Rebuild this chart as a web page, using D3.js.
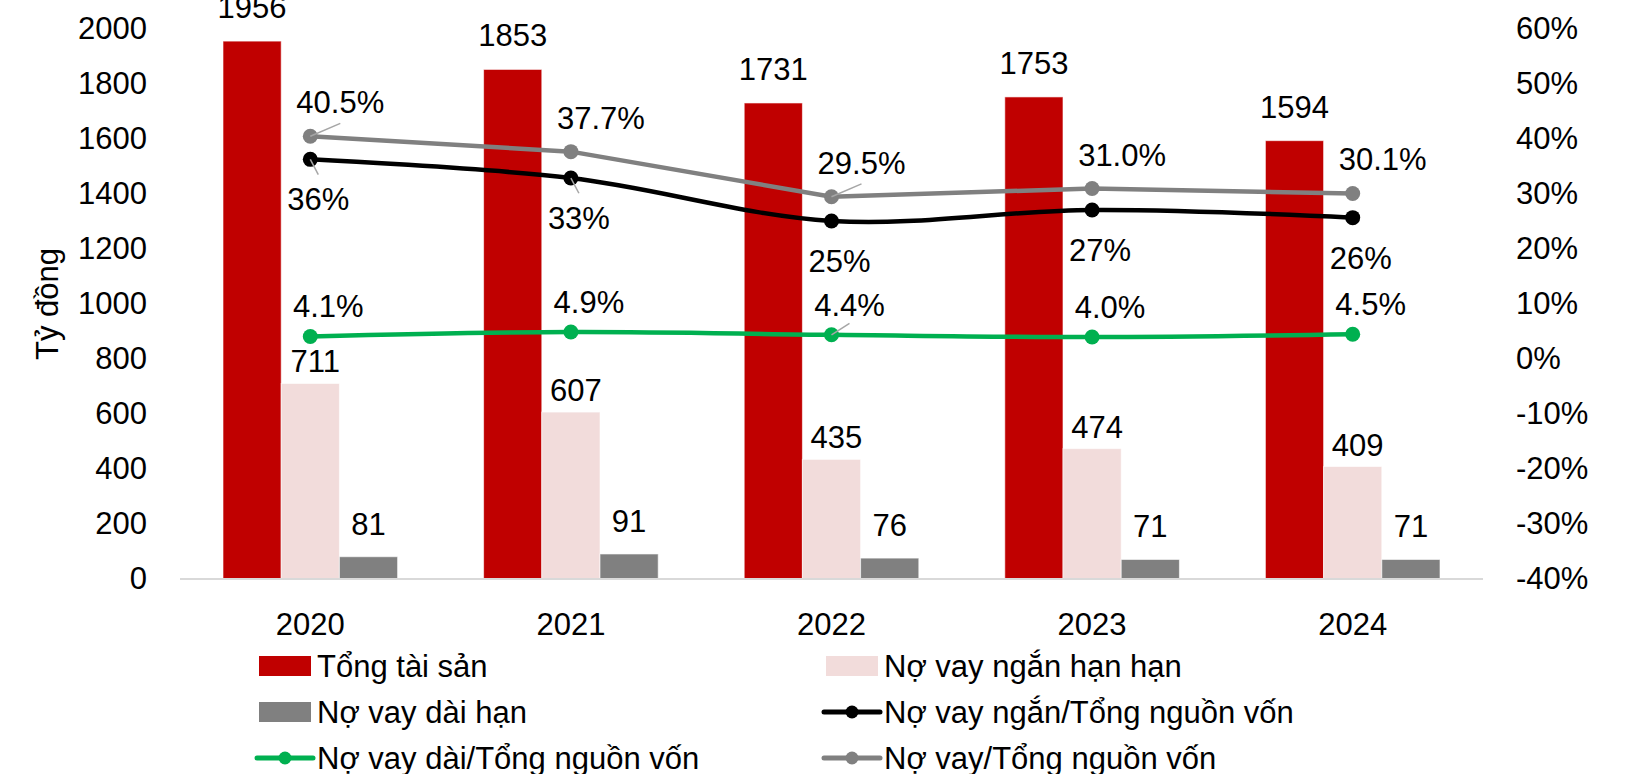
<!DOCTYPE html>
<html>
<head>
<meta charset="utf-8">
<script src="https://cdn.jsdelivr.net/npm/d3@7"></script>
<style>
  html, body { margin: 0; padding: 0; background: #fff; }
  svg text { font-family: "Liberation Sans", Arial, sans-serif; fill: #000; }
</style>
</head>
<body>
<svg id="chart" width="1633" height="774"></svg>
<script>
// ---- data ----
const years        = ['2020', '2021', '2022', '2023', '2024'];
const totalAssets  = [1956, 1853, 1731, 1753, 1594];
const shortDebt    = [711, 607, 435, 474, 409];
const longDebt     = [81, 91, 76, 71, 71];
const shortRatio   = [36.3, 32.9, 25.1, 27.1, 25.7];   // % of total capital
const longRatio    = [4.1, 4.9, 4.4, 4.0, 4.5];
const debtRatio    = [40.5, 37.7, 29.5, 31.0, 30.1];
const leftTicks    = [0, 200, 400, 600, 800, 1000, 1200, 1400, 1600, 1800, 2000];
const rightTicks   = [-40, -30, -20, -10, 0, 10, 20, 30, 40, 50, 60];

const CONFIG = {
  left: 180, right: 1483, top: 29, bottom: 579,
  font: 31,
  red: '#c00000', pink: '#f2dcdb', greyBar: '#808080',
  greyLine: '#808080', black: '#000000', green: '#00b050',
  leader: '#a6a6a6', axis: '#d9d9d9'
};

const svg = d3.select('#chart');

// ---- scales ----
const x0 = d3.scaleBand().domain(years)
  .range([CONFIG.left, CONFIG.right])
  .paddingInner(0.33).paddingOuter(0.165);
const barKeys = ['total', 'short', 'long'];
const x1 = d3.scaleBand().domain(barKeys).range([0, x0.bandwidth()]);
const yL = d3.scaleLinear().domain([0, 2000]).range([CONFIG.bottom, CONFIG.top]);
const yR = d3.scaleLinear().domain([-40, 60]).range([CONFIG.bottom, CONFIG.top]);
const cx = y => x0(y) + x0.bandwidth() / 2;

// ---- axes (labels only) ----
const gL = svg.append('g').attr('transform', `translate(${CONFIG.left - 33},0)`)
  .call(d3.axisLeft(yL).tickValues(leftTicks).tickSize(0).tickPadding(0)
        .tickFormat(d3.format('d')));
const gR = svg.append('g').attr('transform', `translate(${CONFIG.right + 33},0)`)
  .call(d3.axisRight(yR).tickValues(rightTicks).tickSize(0).tickPadding(0)
        .tickFormat(d => d + '%'));
const gX = svg.append('g').attr('transform', `translate(0,${CONFIG.bottom})`)
  .call(d3.axisBottom(x0).tickSize(0).tickPadding(34));
[gL, gR, gX].forEach(g => {
  g.select('.domain').remove();
  g.selectAll('text').attr('font-size', CONFIG.font)
    .attr('font-family', '"Liberation Sans", Arial, sans-serif').attr('fill', '#000');
});

svg.append('text')
  .attr('transform', `translate(58,304) rotate(-90)`)
  .attr('text-anchor', 'middle')
  .attr('font-size', CONFIG.font)
  .text('Tỷ đồng');

// ---- bars ----
const barRows = years.map((y, i) => ({
  year: y,
  vals: [
    { key: 'total', v: totalAssets[i], c: CONFIG.red,     gap: 23, dx: 0 },
    { key: 'short', v: shortDebt[i],   c: CONFIG.pink,    gap: 11, dx: 5 },
    { key: 'long',  v: longDebt[i],    c: CONFIG.greyBar, gap: 22, dx: 0 }
  ]
}));

const grp = svg.append('g').selectAll('g.grp').data(barRows).enter()
  .append('g').attr('class', 'grp')
  .attr('transform', d => `translate(${x0(d.year)},0)`);

grp.selectAll('rect').data(d => d.vals).enter().append('rect')
  .attr('x', d => x1(d.key))
  .attr('y', d => yL(d.v))
  .attr('width', x1.bandwidth())
  .attr('height', d => yL(0) - yL(d.v))
  .attr('fill', d => d.c)
  .attr('stroke', '#fff').attr('stroke-opacity', 0.6).attr('stroke-width', 1);

grp.selectAll('text.bl').data(d => d.vals).enter().append('text')
  .attr('class', 'bl')
  .attr('x', d => x1(d.key) + x1.bandwidth() / 2 + d.dx)
  .attr('y', d => yL(d.v) - d.gap)
  .attr('text-anchor', 'middle')
  .attr('font-size', CONFIG.font)
  .text(d => d.v);

// axis baseline
svg.append('line')
  .attr('x1', CONFIG.left).attr('x2', CONFIG.right)
  .attr('y1', CONFIG.bottom).attr('y2', CONFIG.bottom)
  .attr('stroke', CONFIG.axis).attr('stroke-width', 2);

// ---- lines ----
const lineSeries = [
  { name: 'debt',  vals: debtRatio,  c: CONFIG.greyLine, curve: d3.curveLinear,
    dx: 30, dy: -34, fmt: d3.format('.1f'), leaders: ['2020', '2022'] },
  { name: 'short', vals: shortRatio, c: CONFIG.black, curve: d3.curveCatmullRom,
    dx: 8, dy: 40, fmt: d3.format('.0f'), leaders: ['2020', '2021'] },
  { name: 'long',  vals: longRatio,  c: CONFIG.green, curve: d3.curveCatmullRom,
    dx: 18, dy: -30, fmt: d3.format('.1f'), leaders: ['2022'] }
];

lineSeries.forEach(s => {
  const pts = years.map((y, i) => ({ year: y, v: s.vals[i] }));
  const line = d3.line().x(d => cx(d.year)).y(d => yR(d.v)).curve(s.curve);
  const g = svg.append('g');

  g.append('path').datum(pts)
    .attr('d', line).attr('fill', 'none')
    .attr('stroke', s.c).attr('stroke-width', 4.5)
    .attr('stroke-linejoin', 'round');

  g.selectAll('circle').data(pts).enter().append('circle')
    .attr('cx', d => cx(d.year)).attr('cy', d => yR(d.v))
    .attr('r', 7.5).attr('fill', s.c);

  // leader lines for the labels that were pulled away
  g.selectAll('line.ld').data(pts.filter(d => s.leaders.includes(d.year))).enter()
    .append('line').attr('class', 'ld')
    .attr('x1', d => cx(d.year)).attr('y1', d => yR(d.v))
    .attr('x2', d => cx(d.year) + s.dx).attr('y2', d => yR(d.v) + s.dy * 0.38)
    .attr('stroke', CONFIG.leader).attr('stroke-width', 1.5);

  g.selectAll('text').data(pts).enter().append('text')
    .attr('x', d => cx(d.year) + s.dx)
    .attr('y', d => yR(d.v) + s.dy + 11)
    .attr('text-anchor', 'middle')
    .attr('font-size', CONFIG.font)
    .text(d => s.fmt(d.v) + '%');
});

// ---- legend ----
const legendItems = [
  { label: 'Tổng tài sản',                type: 'rect', c: CONFIG.red },
  { label: 'Nợ vay ngắn hạn hạn',         type: 'rect', c: CONFIG.pink },
  { label: 'Nợ vay dài hạn',              type: 'rect', c: CONFIG.greyBar },
  { label: 'Nợ vay ngắn/Tổng nguồn vốn',  type: 'line', c: CONFIG.black },
  { label: 'Nợ vay dài/Tổng nguồn vốn',   type: 'line', c: CONFIG.green },
  { label: 'Nợ vay/Tổng nguồn vốn',       type: 'line', c: CONFIG.greyLine }
];
const legX = [259, 826];
const legY0 = 666, legStep = 46;

const lg = svg.append('g').selectAll('g').data(legendItems).enter().append('g')
  .attr('transform', (d, i) => `translate(${legX[i % 2]},${legY0 + Math.floor(i / 2) * legStep})`);

lg.filter(d => d.type === 'rect').append('rect')
  .attr('x', 0).attr('y', -10).attr('width', 52).attr('height', 20)
  .attr('fill', d => d.c);
lg.filter(d => d.type === 'line').append('line')
  .attr('x1', -2).attr('x2', 54).attr('y1', 0).attr('y2', 0)
  .attr('stroke', d => d.c).attr('stroke-width', 5).attr('stroke-linecap', 'round');
lg.filter(d => d.type === 'line').append('circle')
  .attr('cx', 26).attr('cy', 0).attr('r', 6.5).attr('fill', d => d.c);
lg.append('text')
  .attr('x', 58).attr('y', 11)
  .attr('font-size', CONFIG.font)
  .text(d => d.label);
</script>
</body>
</html>
